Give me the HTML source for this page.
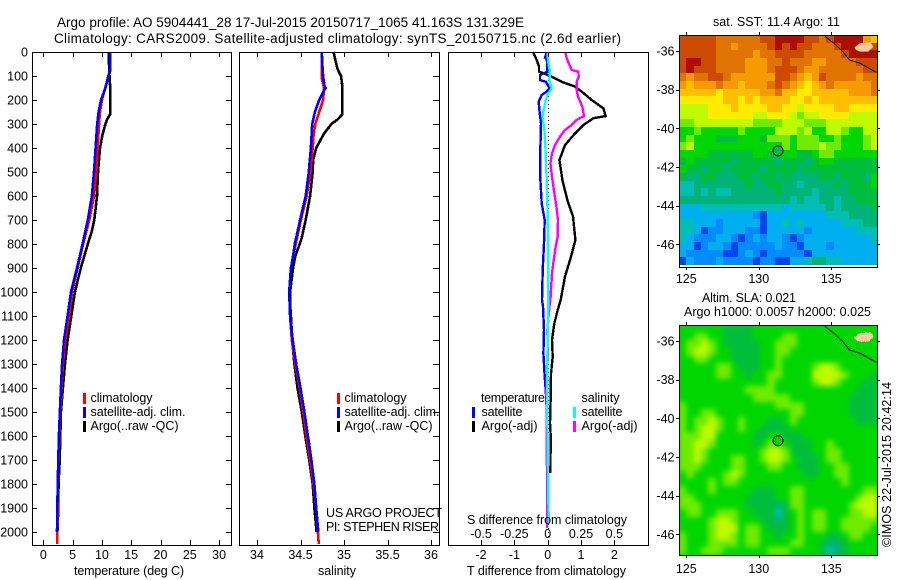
<!DOCTYPE html>
<html>
<head>
<meta charset="utf-8">
<title>Argo profile</title>
<style>
html,body{margin:0;padding:0;background:#fff;width:900px;height:580px;overflow:hidden}
svg{display:block}
text{font-family:"Liberation Sans",sans-serif;font-size:12.5px;fill:#000}
.t{font-size:13.5px}
</style>
</head>
<body>
<svg id="chart" width="900" height="580" viewBox="0 0 900 580" xmlns="http://www.w3.org/2000/svg">
<defs>
<filter id="smooth" color-interpolation-filters="sRGB"><feGaussianBlur stdDeviation="2.6"/></filter>
<clipPath id="slaClip"><rect x="679" y="325" width="199" height="231"/></clipPath>
</defs>
<rect width="900" height="580" fill="#fff"/>
<g id="marks"></g>
<text class="t" x="57" y="27" textLength="467" lengthAdjust="spacing">Argo profile: AO 5904441_28 17-Jul-2015 20150717_1065 41.163S 131.329E</text>
<text class="t" x="54" y="43" textLength="567" lengthAdjust="spacing">Climatology: CARS2009. Satellite-adjusted climatology: synTS_20150715.nc (2.6d earlier)</text>
<text x="74" y="575" textLength="110" lengthAdjust="spacing">temperature (deg C)</text>
<text x="318" y="575" textLength="38" lengthAdjust="spacing">salinity</text>
<text x="467" y="575" textLength="159" lengthAdjust="spacing">T difference from climatology</text>
<text x="467" y="524" textLength="160" lengthAdjust="spacing">S difference from climatology</text>
<g>
<rect x="83" y="393" width="3" height="11" fill="#f00"/>
<rect x="83" y="407" width="3" height="11" fill="#00f"/>
<rect x="83" y="421" width="3" height="11" fill="#000"/>
<text x="90.5" y="402" textLength="62" lengthAdjust="spacing">climatology</text>
<text x="90.5" y="416" textLength="95" lengthAdjust="spacing">satellite-adj. clim.</text>
<text x="90.5" y="430" textLength="88" lengthAdjust="spacing">Argo(..raw -QC)</text>
</g>
<g>
<rect x="337" y="393" width="3" height="11" fill="#f00"/>
<rect x="337" y="407" width="3" height="11" fill="#00f"/>
<rect x="337" y="421" width="3" height="11" fill="#000"/>
<text x="344.5" y="402" textLength="62" lengthAdjust="spacing">climatology</text>
<text x="344.5" y="416" textLength="95" lengthAdjust="spacing">satellite-adj. clim.</text>
<text x="344.5" y="430" textLength="88" lengthAdjust="spacing">Argo(..raw -QC)</text>
</g>
<text x="326" y="517" textLength="116" lengthAdjust="spacing">US ARGO PROJECT</text>
<text x="326" y="531" textLength="113" lengthAdjust="spacing">PI: STEPHEN RISER</text>
<g>
<text x="481" y="402" textLength="64" lengthAdjust="spacing">temperature</text>
<rect x="472" y="407" width="3" height="11" fill="#00f"/>
<rect x="472" y="421" width="3" height="11" fill="#000"/>
<text x="481.5" y="416" textLength="41" lengthAdjust="spacing">satellite</text>
<text x="481.5" y="430" textLength="56" lengthAdjust="spacing">Argo(-adj)</text>
<text x="581.5" y="402" textLength="38" lengthAdjust="spacing">salinity</text>
<rect x="573" y="407" width="3" height="11" fill="#0ff"/>
<rect x="573" y="421" width="3" height="11" fill="#f0f"/>
<text x="581.5" y="416" textLength="41" lengthAdjust="spacing">satellite</text>
<text x="581.5" y="430" textLength="56" lengthAdjust="spacing">Argo(-adj)</text>
</g>
<text x="713" y="26" textLength="127" lengthAdjust="spacing">sat. SST: 11.4 Argo: 11</text>
<text x="702" y="302" textLength="94" lengthAdjust="spacing">Altim. SLA: 0.021</text>
<text x="684" y="316" textLength="187" lengthAdjust="spacing">Argo h1000: 0.0057 h2000: 0.025</text>
<text transform="translate(891,547) rotate(-90)" textLength="165" lengthAdjust="spacing">©IMOS 22-Jul-2015 20:42:14</text>
</svg>
<script>
// ---- profile data ----
var depthTicks = [0,100,200,300,400,500,600,700,800,900,1000,1100,1200,1300,1400,1500,1600,1700,1800,1900,2000];
var tempTicks = [0,5,10,15,20,25,30];
var salTicks = [34,34.5,35,35.5,36];
var salTickLabels = ['34','34.5','35','35.5','36'];
var diffTTicks = [-2,-1,0,1,2];
var diffSTicks = [-0.5,-0.25,0,0.25,0.5];
var diffSTickLabels = ['-0.5','-0.25','0','0.25','0.5'];

var argoTDepth = [0,100,140,260,280,300,350,400,500,600,700,750,800,900,1000,1100,1200,1300,1400,1500,1600,1700,1800,1900,2000];
var argoT = [11.15,11.3,11.4,11.4,10.9,10.6,10.05,9.67,9.33,9.16,8.7,8.25,7.6,6.4,5.4,4.78,4.15,3.7,3.35,3.0,2.9,2.8,2.6,2.56,2.4];
var climTDepth = [0,80,100,120,200,250,300,400,500,600,700,800,900,1000,1100,1200,1300,1400,1500,1600,1700,1800,1900,2000,2050];
var climT = [11.4,11.4,11.2,10.9,10,9.67,9.5,9.27,9.05,8.65,7.85,6.8,5.86,4.9,4.4,3.75,3.35,3.1,2.9,2.73,2.6,2.5,2.45,2.4,2.4];
var satTDepth = [0,80,100,150,200,250,300,400,500,600,700,800,900,1000,1100,1200,1300,1400,1500,1600,1700,1800,1900,2000];
var satT = [11.4,11.4,11.1,10.6,9.84,9.44,9.2,8.93,8.65,8.3,7.6,6.7,5.75,4.72,4.15,3.53,3.2,3.0,2.84,2.67,2.56,2.45,2.4,2.33];

var argoSDepth = [0,40,70,100,140,260,280,300,340,400,450,500,600,700,780,850,900,1000,1050,1100,1200,1300,1400,1500,1600,1700,1800,1900,2000];
var argoS = [34.88,34.905,34.925,34.965,34.98,34.98,34.93,34.855,34.77,34.68,34.645,34.64,34.61,34.56,34.51,34.44,34.415,34.38,34.38,34.39,34.405,34.43,34.465,34.515,34.555,34.6,34.64,34.66,34.685];
var climSDepth = [0,110,150,200,250,300,350,400,500,600,700,800,850,900,1000,1100,1200,1300,1400,1500,1600,1700,1800,1900,2000,2050];
var climS = [34.745,34.745,34.77,34.76,34.715,34.67,34.65,34.64,34.615,34.57,34.505,34.445,34.415,34.39,34.37,34.38,34.4,34.44,34.49,34.53,34.57,34.61,34.65,34.68,34.7,34.71];
var satSDepth = [0,50,100,140,150,160,200,250,300,400,500,600,700,800,850,900,1000,1100,1200,1300,1400,1500,1600,1700,1800,1900,2000];
var satS = [34.745,34.75,34.76,34.775,34.79,34.77,34.715,34.665,34.635,34.62,34.595,34.56,34.495,34.435,34.415,34.39,34.37,34.38,34.41,34.45,34.5,34.545,34.585,34.625,34.66,34.68,34.705];

var dTArgoDepth = [0,33,61,82,89,103,124,144,165,200,235,267,276,304,339,388,450,533,617,686,783,853,936,1033,1075,1130,1200,1270,1340,1435,1546,1600,1755];
var dTArgo = [-0.44,-0.33,-0.26,-0.26,-0.11,0.12,0.42,0.82,1.02,1.32,1.67,1.74,1.37,1.07,0.82,0.52,0.35,0.44,0.59,0.76,0.83,0.7,0.52,0.39,0.3,0.2,0.13,0.15,0.1,0.09,0.07,0.09,0.08];
var dTSatDepth = [0,24,31,54,82,96,117,124,151,165,179,207,242,297,394,533,631,700,797,908,1033,1061,1158,1256,1353,1450,1546,1755,1963];
var dTSat = [-0.03,-0.08,-0.03,-0.01,-0.01,-0.23,-0.23,-0.05,0.05,-0.03,-0.18,-0.27,-0.25,-0.2,-0.22,-0.22,-0.18,-0.09,-0.11,-0.15,-0.17,-0.14,-0.11,-0.13,-0.09,-0.04,-0.03,-0.01,0];
var dSArgoDepth = [0,26,47,75,82,103,124,158,186,228,267,283,304,325,353,388,422,464,519,589,644,700,769,811,867,922,1033,1061,1158,1270,1408,1546,1755,1983];
var dSArgo = [0.1325,0.1425,0.1575,0.18,0.23,0.2325,0.2175,0.2175,0.2275,0.26,0.2725,0.2175,0.18,0.13,0.0925,0.055,0.0325,0.02,0.0325,0.05,0.065,0.0775,0.075,0.06,0.045,0.0325,0.02,0.0125,-0.0025,0,-0.01,-0.0075,-0.005,-0.005];
var dSSatDepth = [0,47,82,117,151,179,207,269,325,394,533,631,742,881,1033,1130,1270,1546,1963];
var dSSat = [-0.0025,0.005,0.0175,0.0125,0.03,-0.0025,-0.0175,-0.04,-0.025,-0.0175,-0.0075,-0.0025,0.0025,0.005,0.005,0.0025,-0.0025,-0.0025,0.0075];

// ---- map data (colour levels 0..15) ----
var lonTicks = [125,130,135];
var latTicks = [-36,-38,-40,-42,-44,-46];
var sstLevels = [
[14,14,14,14,14,13,13,13,13,13,13,14,14,15,15,15,15,14,14,13,14,15,15,15,15,12,11],
[14,14,14,14,14,13,13,12,13,13,13,13,14,15,14,15,14,14,13,13,13,14,15,15,15,15,14],
[14,14,14,14,14,13,13,13,13,13,12,13,13,14,14,14,14,13,13,13,13,13,14,15,15,15,15],
[14,15,15,14,14,13,13,13,13,12,12,12,13,13,14,13,13,13,12,12,13,13,13,13,14,14,14],
[14,15,14,14,14,13,13,13,13,12,12,12,13,14,14,14,13,12,12,13,13,13,13,13,13,14,14],
[13,12,13,13,14,14,13,12,12,12,12,12,12,14,14,13,12,11,12,14,13,13,13,13,12,13,13],
[12,11,12,12,12,13,12,12,11,12,12,12,13,14,13,12,11,10,11,12,13,12,12,12,12,12,13],
[11,11,11,11,11,10,11,11,11,11,11,12,12,13,11,11,10,10,11,11,11,11,11,12,12,12,13],
[10,10,10,10,10,10,11,11,10,11,10,11,11,11,11,10,10,11,10,11,11,11,11,11,11,11,11],
[9,9,9,9,10,10,10,11,10,10,10,10,11,11,10,10,9,10,10,10,10,11,11,10,10,10,10],
[9,9,9,9,10,10,10,10,10,10,9,9,10,10,10,9,8,9,9,10,10,10,10,9,9,9,9],
[8,8,9,9,9,9,9,9,9,9,8,8,8,8,9,9,9,8,8,8,9,9,9,9,9,9,9],
[7,7,8,7,7,7,7,7,8,7,7,7,7,9,9,9,8,9,7,7,9,9,8,7,7,9,9],
[7,8,7,7,7,6,6,6,7,7,7,6,8,8,8,7,8,8,8,7,7,8,7,7,7,8,9],
[8,9,7,7,7,7,7,7,7,7,7,7,7,7,8,7,8,8,8,9,8,8,7,7,7,8,9],
[7,7,7,7,6,6,6,6,6,6,7,7,6,6,7,7,6,6,7,8,8,7,7,7,7,7,7],
[6,7,6,6,6,6,6,5,6,6,6,6,6,5,6,6,6,5,6,7,7,6,6,6,6,6,6],
[7,6,6,5,6,6,5,6,6,6,6,5,6,6,6,6,5,6,6,6,6,6,6,6,6,6,6],
[6,5,5,6,6,5,5,5,6,6,5,6,6,5,6,5,5,5,5,6,6,5,6,6,6,5,7],
[4,4,5,5,5,5,5,5,5,6,5,5,6,6,5,5,4,5,5,5,5,6,5,6,6,6,7],
[4,4,5,4,5,4,4,5,5,5,5,5,5,6,5,5,5,5,4,5,5,5,5,6,6,6,6],
[5,5,5,5,5,5,5,5,5,5,5,5,5,5,5,4,5,4,4,5,5,4,5,5,6,6,6],
[3,3,3,4,4,4,4,4,4,4,4,4,4,4,3,4,4,4,4,4,5,4,5,5,5,5,6],
[3,3,3,3,3,3,3,3,3,3,2,1,3,3,3,3,3,3,3,3,4,4,4,5,5,5,5],
[4,4,3,3,3,2,3,3,3,3,3,1,3,3,4,3,4,3,3,3,3,3,4,4,4,5,5],
[4,4,3,1,2,2,3,3,3,2,2,1,3,3,3,3,3,2,3,3,3,3,3,3,4,4,4],
[4,3,2,2,2,3,3,2,1,2,3,2,3,3,2,1,2,3,3,3,3,3,3,3,3,3,4],
[3,3,1,2,3,3,2,1,2,2,2,2,2,3,2,2,1,3,3,3,2,3,3,3,3,3,3],
[3,2,2,2,2,2,1,1,2,3,2,1,2,2,2,2,2,1,3,3,3,3,3,3,3,3,3],
[1,3,2,2,2,3,2,2,2,2,1,2,2,1,1,3,3,4,5,5,4,4,3,3,3,3,3]
];
var slaLevels = [
[7,7,7,7,7,7,6,6,6,6,7,7,7,7,7,7,7,7,7,7,7,7,7,7,7,7,7],
[7,7,8,8,7,7,6,6,6,6,7,7,7,7,8,8,7,7,7,7,7,7,7,7,7,7,7],
[7,8,8,9,8,7,6,6,6,6,6,7,7,8,8,8,7,7,7,7,7,7,7,7,7,7,7],
[7,8,9,9,8,7,7,6,6,6,6,7,7,8,8,7,7,7,7,7,7,7,7,7,7,7,7],
[7,7,8,8,7,7,7,6,6,6,6,7,7,8,7,7,7,7,7,7,7,7,7,7,7,7,7],
[7,7,7,7,7,8,8,7,6,6,6,7,7,8,7,7,7,7,8,9,9,8,7,7,7,7,7],
[7,7,7,7,7,8,8,7,7,6,7,7,8,8,7,7,7,7,9,9,9,9,8,7,7,7,6],
[7,7,7,7,7,7,7,7,7,7,7,7,8,7,7,7,7,7,8,9,9,8,7,7,7,6,6],
[7,7,7,7,7,7,7,7,7,8,8,8,8,7,7,7,7,7,7,7,7,7,7,7,6,6,6],
[7,7,7,7,7,7,7,7,7,7,8,8,8,8,8,7,7,7,7,7,7,7,7,6,6,6,6],
[8,7,7,7,7,7,7,7,7,7,7,7,7,8,8,8,8,7,7,7,7,7,7,6,6,6,6],
[8,7,7,8,8,7,7,7,7,7,7,7,7,7,7,8,8,7,7,7,7,7,7,6,6,6,6],
[8,7,8,8,9,8,7,7,8,7,7,7,6,6,7,8,7,7,7,7,7,7,7,7,6,6,6],
[8,7,8,9,9,8,7,7,8,7,7,6,6,6,6,7,7,7,7,7,7,7,7,7,7,7,7],
[8,8,8,9,9,7,7,7,7,7,6,6,7,7,6,6,6,7,7,7,7,7,7,7,7,7,7],
[8,8,9,9,8,7,7,7,7,7,6,7,8,8,7,6,6,6,7,7,8,7,7,7,7,7,7],
[8,8,9,8,7,7,7,7,7,7,7,8,9,9,8,6,6,6,7,7,8,8,7,7,7,7,7],
[8,8,9,8,7,7,7,8,8,7,7,8,9,9,8,7,6,6,6,7,8,8,7,7,7,7,7],
[8,8,8,7,7,7,7,8,8,7,7,7,8,8,7,7,6,6,6,7,7,8,8,7,7,7,7],
[7,8,7,7,7,7,8,9,8,7,7,7,7,7,7,7,7,6,6,7,7,8,8,7,7,7,7],
[7,7,7,7,8,7,8,8,7,7,7,7,7,7,7,7,7,7,7,7,7,7,8,7,7,7,7],
[8,7,7,7,8,7,7,7,7,7,6,6,6,7,7,8,8,7,7,7,7,7,7,7,7,8,8],
[8,8,7,7,7,7,7,7,7,6,6,6,6,7,7,8,8,7,7,7,7,7,7,7,8,9,9],
[8,8,8,7,7,7,7,7,7,6,6,6,6,5,6,8,8,7,7,7,7,7,7,8,9,9,9],
[7,8,8,7,7,8,8,8,7,7,6,6,6,4,6,7,8,7,8,8,7,7,7,8,8,9,9],
[7,7,7,7,8,9,9,8,7,7,7,6,6,5,6,7,8,7,8,8,7,7,8,8,8,8,8],
[7,7,7,7,8,9,9,9,7,8,8,7,6,6,6,7,8,7,8,8,7,7,8,8,8,8,7],
[8,7,7,7,8,9,9,8,7,8,8,7,7,6,7,7,8,7,7,7,6,6,7,8,8,7,7],
[8,7,7,7,8,8,8,8,7,8,8,7,7,7,7,8,8,7,7,6,5,5,6,7,7,7,7],
[8,7,7,8,8,8,7,7,7,7,7,7,8,8,8,7,7,7,7,6,4,5,6,7,7,7,7]
];
var coastLon = [134.56,135.25,135.8,136.26,136.95,138.1];
var coastLat = [-35.24,-35.64,-36.04,-36.47,-36.62,-37.1];
var islandLon = [136.59,136.98,137.71,137.9,137.55,136.98,136.7];
var islandLat = [-35.81,-35.6,-35.55,-35.78,-36.03,-36.03,-35.95];
var floatLon = [131.329];
var floatLat = [-41.163];

var palette = ['#0000aa','#0046f0','#008cff','#00aff0','#00beb4','#00b478','#00be3c','#00d700','#6eeb00','#befa00','#ffeb00','#ffbe00','#f59b00','#e17300','#cd4b00','#aa0f00'];

var NS = 'http://www.w3.org/2000/svg';
var root = document.getElementById('marks');
function mk(tag, parent) {
  var n = document.createElementNS(NS, tag);
  parent.appendChild(n);
  return n;
}
function yDepth(d) { return 52 + 0.24 * d; }
function xTemp(v) { return 43.3 + 5.86 * v; }
function xSal(v) { return 257 + 87 * (v - 34); }
function xDT(v) { return 547.7 + 33.33 * v; }
function xDS(v) { return 547.7 + 133.3 * v; }

function frame(x0, x1, y0, y1, parent) {
  var el = mk('rect', parent);
  
  
  el.setAttribute('x', x0 + 0.5);
  el.setAttribute('y', y0 + 0.5);
  el.setAttribute('width', x1 - x0);
  el.setAttribute('height', y1 - y0);
  el.setAttribute('fill', 'none');
  el.setAttribute('stroke', '#000');
  el.setAttribute('shape-rendering', 'crispEdges');
}
function tick(x1, y1, x2, y2, parent) {
  var el = mk('line', parent);
  
  
  el.setAttribute('x1', x1);
  el.setAttribute('y1', y1);
  el.setAttribute('x2', x2);
  el.setAttribute('y2', y2);
  el.setAttribute('stroke', '#000');
  el.setAttribute('shape-rendering', 'crispEdges');
}
function label(str, x, y, anchor, parent) {
  var el = mk('text', parent);
  
  
  el.setAttribute('x', x);
  el.setAttribute('y', y);
  el.setAttribute('text-anchor', anchor);
  el.textContent = str;
}
function series(name, xs, ds, xf, color, width, parent) {
  var el = mk('polyline', parent);
  
  
  var pts = [];
  for (var i = 0; i < xs.length; i++) {
    pts.push(xf(xs[i]).toFixed(1) + ',' + yDepth(ds[i]).toFixed(1));
  }
  el.setAttribute('points', pts.join(' '));
  el.setAttribute('fill', 'none');
  el.setAttribute('stroke', color);
  el.setAttribute('stroke-width', width);
  el.setAttribute('shape-rendering', 'crispEdges');
}
function xAxisTicks(vals, labels, xf, x0, parent) {
  vals.forEach(function (v, i) {
    var px = Math.round(xf(v)) + 0.5;
    tick(px, 52, px, 57, parent);
    tick(px, 545, px, 540, parent);
    label(labels[i], xf(v), 559, 'middle', parent);
  });
}

// temperature panel
var p1 = mk('g', root);


series('argo-temperature-line', argoT, argoTDepth, xTemp, '#000', 2.6, p1);
series('climatology-temperature-line', climT, climTDepth, xTemp, '#f00', 2.6, p1);
series('satellite-temperature-line', satT, satTDepth, xTemp, '#00f', 2.6, p1);
frame(32, 231, 52, 545, p1);
xAxisTicks(tempTicks, tempTicks.map(String), xTemp, 32, p1);
depthTicks.forEach(function (d) {
  var py = Math.round(yDepth(d)) + 0.5;
  if (d > 0) { tick(32, py, 37, py, p1); }
  tick(231, py, 226, py, p1);
  label(String(d), 28, yDepth(d) + 4.5, 'end', p1);
});

// salinity panel
var p2 = mk('g', root);


series('argo-salinity-line', argoS, argoSDepth, xSal, '#000', 2.6, p2);
series('climatology-salinity-line', climS, climSDepth, xSal, '#f00', 2.6, p2);
series('satellite-salinity-line', satS, satSDepth, xSal, '#00f', 2.6, p2);
frame(239, 439, 52, 545, p2);
xAxisTicks(salTicks, salTickLabels, xSal, 239, p2);
depthTicks.forEach(function (d) {
  var py = Math.round(yDepth(d)) + 0.5;
  tick(439, py, 433, py, p2);
});

// difference panel
var p3 = mk('g', root);


var zero = mk('line', p3);


zero.setAttribute('x1', Math.round(xDT(0)) + 0.5);
zero.setAttribute('x2', Math.round(xDT(0)) + 0.5);
zero.setAttribute('y1', yDepth(0));
zero.setAttribute('y2', 545);
zero.setAttribute('stroke', '#000');
zero.setAttribute('stroke-dasharray', '1 3');
zero.setAttribute('shape-rendering', 'crispEdges');
series('argo-t-difference-line', dTArgo, dTArgoDepth, xDT, '#000', 2.4, p3);
series('satellite-t-difference-line', dTSat, dTSatDepth, xDT, '#00f', 2.4, p3);
series('argo-s-difference-line', dSArgo, dSArgoDepth, xDS, '#f0f', 2.4, p3);
series('satellite-s-difference-line', dSSat, dSSatDepth, xDS, '#0ff', 2.4, p3);
frame(448, 648, 52, 545, p3);
xAxisTicks(diffTTicks, diffTTicks.map(String), xDT, 448, p3);
diffSTicks.forEach(function (v, i) {
  label(diffSTickLabels[i], xDS(v), 538, 'middle', p3);
});

// maps
function drawMap(name, levels, top, bottom, gridBottom, lat36, labelY, markerLevel, smoothField) {
  var g = mk('g', root);
  
  
  var left = 679, right = 877;
  function xLon(lon) { return 686.3 + 14.5 * (lon - 125); }
  function yLat(lat) { return lat36 + 19.33 * (-36 - lat); }
  var lonStart = 125 + (left - 686.3) / 14.5;
  var lonEnd = 125 + (right + 1 - 686.3) / 14.5;
  var latStart = -36 - (top - lat36) / 19.33;
  var latEnd = -36 - (gridBottom - lat36) / 19.33;
  var dLon = (lonEnd - lonStart) / levels[0].length;
  var dLat = (latStart - latEnd) / levels.length;
  var clip = mk('g', g);
  
  
  var field = mk('g', clip);
  
  
  if (smoothField) {
    clip.setAttribute('clip-path', 'url(#slaClip)');
    var under = mk('rect', clip);
    clip.insertBefore(under, field);
    
    
    under.setAttribute('x', left);
    under.setAttribute('y', top);
    under.setAttribute('width', right - left + 1);
    under.setAttribute('height', bottom - top + 1);
    under.setAttribute('fill', palette[7]);
    field.setAttribute('filter', 'url(#smooth)');
  }
  levels.forEach(function (row, r) {
    row.forEach(function (v, c) {
      var x0 = Math.round(xLon(lonStart + c * dLon));
      var x1 = Math.round(xLon(lonStart + (c + 1) * dLon));
      var y0 = Math.round(yLat(latStart - r * dLat));
      var y1 = Math.round(yLat(latStart - (r + 1) * dLat));
      var cell = mk('rect', field);
      
      
      cell.setAttribute('x', x0);
      cell.setAttribute('y', y0);
      cell.setAttribute('width', x1 - x0);
      cell.setAttribute('height', y1 - y0);
      cell.setAttribute('fill', palette[Math.max(0, Math.min(15, Math.round(v)))]);
      cell.setAttribute('shape-rendering', 'crispEdges');
    });
  });
  var island = mk('polygon', g);
  
  
  island.setAttribute('points', islandLon.map(function (lon, i) { return xLon(lon).toFixed(1) + ',' + yLat(islandLat[i]).toFixed(1); }).join(' '));
  island.setAttribute('fill', '#fac8a0');
  if (smoothField) {
    island.setAttribute('stroke', '#fff');
    island.setAttribute('stroke-dasharray', '1 3');
  }
  var coast = mk('polyline', g);
  
  
  coast.setAttribute('points', coastLon.map(function (lon, i) { return xLon(lon).toFixed(1) + ',' + yLat(coastLat[i]).toFixed(1); }).join(' '));
  coast.setAttribute('fill', 'none');
  coast.setAttribute('stroke', '#000');
  var marker = mk('circle', g);
  
  
  marker.setAttribute('cx', xLon(floatLon[0]));
  marker.setAttribute('cy', yLat(floatLat[0]));
  marker.setAttribute('r', 5);
  marker.setAttribute('fill', palette[markerLevel]);
  marker.setAttribute('stroke', '#000');
  frame(left, right, top, bottom, g);
  lonTicks.forEach(function (lon) {
    var px = Math.round(xLon(lon)) + 0.5;
    tick(px, top, px, top - 3, g);
    tick(px, bottom, px, bottom + 3, g);
    label(String(lon), xLon(lon), labelY, 'middle', g);
  });
  latTicks.forEach(function (lat) {
    var py = Math.round(yLat(lat)) + 0.5;
    tick(left, py, left - 3, py, g);
    tick(right, py, right + 3, py, g);
    label(String(lat), 674.5, yLat(lat) + 4.5, 'end', g);
  });
}
drawMap('sst-map', sstLevels, 35, 267, 265, 51, 283, 6, false);
drawMap('sla-map', slaLevels, 325, 555, 555, 341, 573, 7, true);
</script>
</body>
</html>
